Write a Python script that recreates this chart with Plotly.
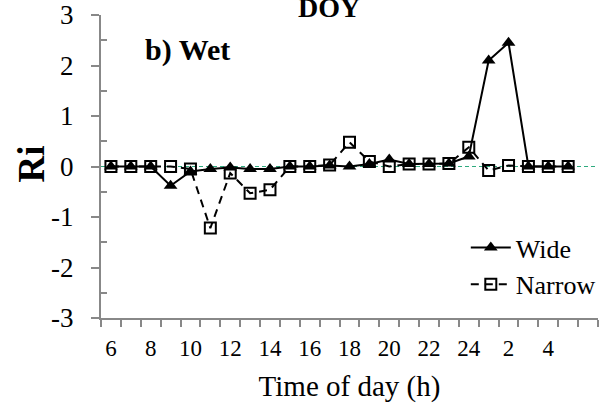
import plotly.graph_objects as go

hours = ["6", "7", "8", "9", "10", "11", "12", "13", "14", "15", "16", "17", "18",
         "19", "20", "21", "22", "23", "24", "1", "2", "3", "4", "5"]
wide = [0, 0, 0, -0.38, -0.1, -0.05, -0.02, -0.05, -0.05, 0, 0, 0.02, 0, 0.05,
        0.14, 0.05, 0.05, 0.06, 0.2, 2.1, 2.45, 0, 0, 0]
narrow = [0, 0, 0, 0, -0.05, -1.22, -0.13, -0.53, -0.46, 0, 0, 0.03, 0.48, 0.1,
          0, 0.05, 0.05, 0.06, 0.38, -0.08, 0.02, 0, 0, 0]
x_tick_labels = ["6", "8", "10", "12", "14", "16", "18", "20", "22", "24", "2", "4"]
y_tick_vals = [-3, -2, -1, 0, 1, 2, 3]
y_tick_labels = ["-3", "-2", "-1", "0", "1", "2", "3"]

xidx = list(range(len(hours)))
tickpos = list(range(0, len(hours), 2))

FONT = "Liberation Serif"

fig = go.Figure()
fig.add_trace(go.Scatter(
    x=xidx, y=wide, name="Wide", mode="lines+markers",
    line=dict(color="black", width=2),
    marker=dict(symbol="triangle-up", size=12, color="black"),
))
fig.add_trace(go.Scatter(
    x=xidx, y=narrow, name="Narrow", mode="lines+markers",
    line=dict(color="black", width=2, dash="8px,6px"),
    marker=dict(symbol="square-open", size=11, color="black", line=dict(width=2)),
))

fig.add_shape(type="line", xref="paper", x0=0, x1=1, yref="y", y0=0, y1=0,
              line=dict(color="#2EAA7E", width=1, dash="4px,3px"), layer="below")

fig.update_layout(
    width=601, height=405,
    margin=dict(l=101, r=0, t=13, b=87),
    paper_bgcolor="white", plot_bgcolor="white",
    font=dict(family=FONT, color="black", size=24),
    showlegend=True,
    legend=dict(x=0.734, y=0.31, xanchor="left", yanchor="top",
                bgcolor="rgba(0,0,0,0)", font=dict(size=26, family=FONT),
                itemwidth=40, tracegroupgap=0),
    xaxis=dict(
        range=[-0.5, 24.5], tickmode="array", tickvals=tickpos, ticktext=x_tick_labels,
        ticks="outside", ticklen=0, showgrid=False, zeroline=False,
        showline=True, linecolor="#888888", linewidth=2,
        ticklabelstandoff=8, ticklabeloverflow="allow",
        tickfont=dict(size=23, family=FONT),
        minor=dict(tickmode="linear", tick0=-0.5, dtick=1, ticks="outside",
                   ticklen=7, tickcolor="#888888", tickwidth=2, showgrid=False),
        title=dict(text="Time of day (h)", font=dict(size=29, family=FONT), standoff=16),
    ),
    yaxis=dict(
        range=[-3, 3], tickmode="array", tickvals=y_tick_vals, ticktext=y_tick_labels,
        ticks="outside", ticklen=8, tickcolor="#888888", tickwidth=2,
        showgrid=False, zeroline=False,
        showline=True, linecolor="#888888", linewidth=2,
        ticklabelstandoff=12, ticklabeloverflow="allow",
        tickfont=dict(size=27, family=FONT),
        minor=dict(tickmode="linear", tick0=-2.5, dtick=1, ticks="inside", ticklen=6,
                   tickcolor="#888888", tickwidth=2, showgrid=False),
    ),
    annotations=[
        dict(text="<b>Ri</b>", xref="paper", yref="paper", x=-0.14, y=0.508,
             xanchor="center", yanchor="middle", textangle=-90, showarrow=False,
             font=dict(size=37, family=FONT)),
        dict(text="<b>b) Wet</b>", xref="paper", yref="paper", x=0.084, y=0.885,
             xanchor="left", yanchor="middle", showarrow=False,
             font=dict(size=30, family=FONT)),
        dict(text="<b>DOY</b>", xref="paper", yref="paper", x=0.458, y=1.0,
             xanchor="center", yanchor="bottom", yshift=-10, showarrow=False,
             font=dict(size=28, family=FONT)),
    ],
)

fig.write_html("out.html")
